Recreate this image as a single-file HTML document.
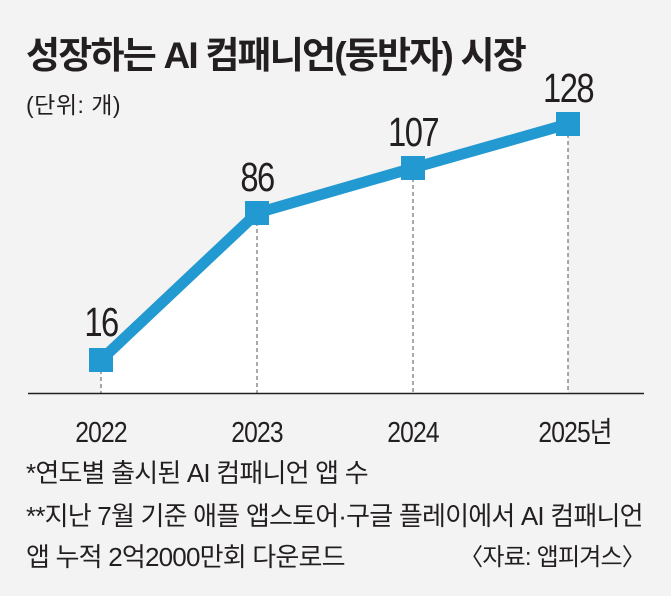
<!DOCTYPE html>
<html><head><meta charset="utf-8"><style>
body{margin:0;width:671px;height:596px;background:#f3f3f3;overflow:hidden;font-family:"Liberation Sans","Noto Sans CJK KR",sans-serif;color:#231f20;position:relative}
.t{position:absolute;white-space:nowrap}
</style></head><body>
<div class="t" style="left:26px;top:25px;font-size:37px;font-weight:bold;letter-spacing:-1.8px">성장하는 AI 컴패니언(동반자) 시장</div>
<div class="t" style="left:26px;top:86px;font-size:23px;letter-spacing:0.5px">(단위: 개)</div>
<svg width="671" height="596" style="position:absolute;left:0;top:0">
<polygon points="101,360 257,213 413,168 568,124 568,393 101,393" fill="#fff"/>
<g stroke="#555" stroke-width="1" stroke-dasharray="4,3">
<line x1="101" y1="370" x2="101" y2="393"/><line x1="257" y1="222" x2="257" y2="393"/>
<line x1="413" y1="178" x2="413" y2="393"/><line x1="568" y1="134" x2="568" y2="393"/></g>
<line x1="28" y1="393.5" x2="644" y2="393.5" stroke="#231f20" stroke-width="1.5"/>
<polyline points="101,360 257,213 413,168 568,124" fill="none" stroke="#2299d0" stroke-width="11" stroke-linejoin="round"/>
<g fill="#2299d0"><rect x="89" y="348" width="24" height="24"/><rect x="245" y="201" width="24" height="24"/><rect x="401" y="156" width="24" height="24"/><rect x="556" y="112" width="24" height="24"/></g>
<g font-size="41" text-anchor="middle" fill="#231f20" letter-spacing="-2">
<text transform="translate(101,336) scale(0.8,1)">16</text><text transform="translate(257,191) scale(0.8,1)">86</text><text transform="translate(413,146) scale(0.8,1)">107</text><text transform="translate(568,102) scale(0.8,1)">128</text></g>
<g font-size="29" text-anchor="middle" fill="#231f20" letter-spacing="-1">
<text transform="translate(101,442) scale(0.85,1)">2022</text><text transform="translate(257,442) scale(0.85,1)">2023</text><text transform="translate(413,442) scale(0.85,1)">2024</text><text transform="translate(575,442) scale(0.85,1)">2025년</text></g>
</svg>
<div class="t" style="left:26px;top:453px;font-size:26px;letter-spacing:-0.8px">*연도별 출시된 AI 컴패니언 앱 수</div>
<div class="t" style="left:26px;top:496px;font-size:26px;letter-spacing:-0.8px">**지난 7월 기준 애플 앱스토어·구글 플레이에서 AI 컴패니언</div>
<div class="t" style="left:26px;top:537px;font-size:26px;letter-spacing:-0.8px">앱 누적 2억2000만회 다운로드</div>
<div class="t" style="right:26px;top:537px;font-size:24px;letter-spacing:-0.8px">〈자료: 앱피겨스〉</div>
</body></html>
